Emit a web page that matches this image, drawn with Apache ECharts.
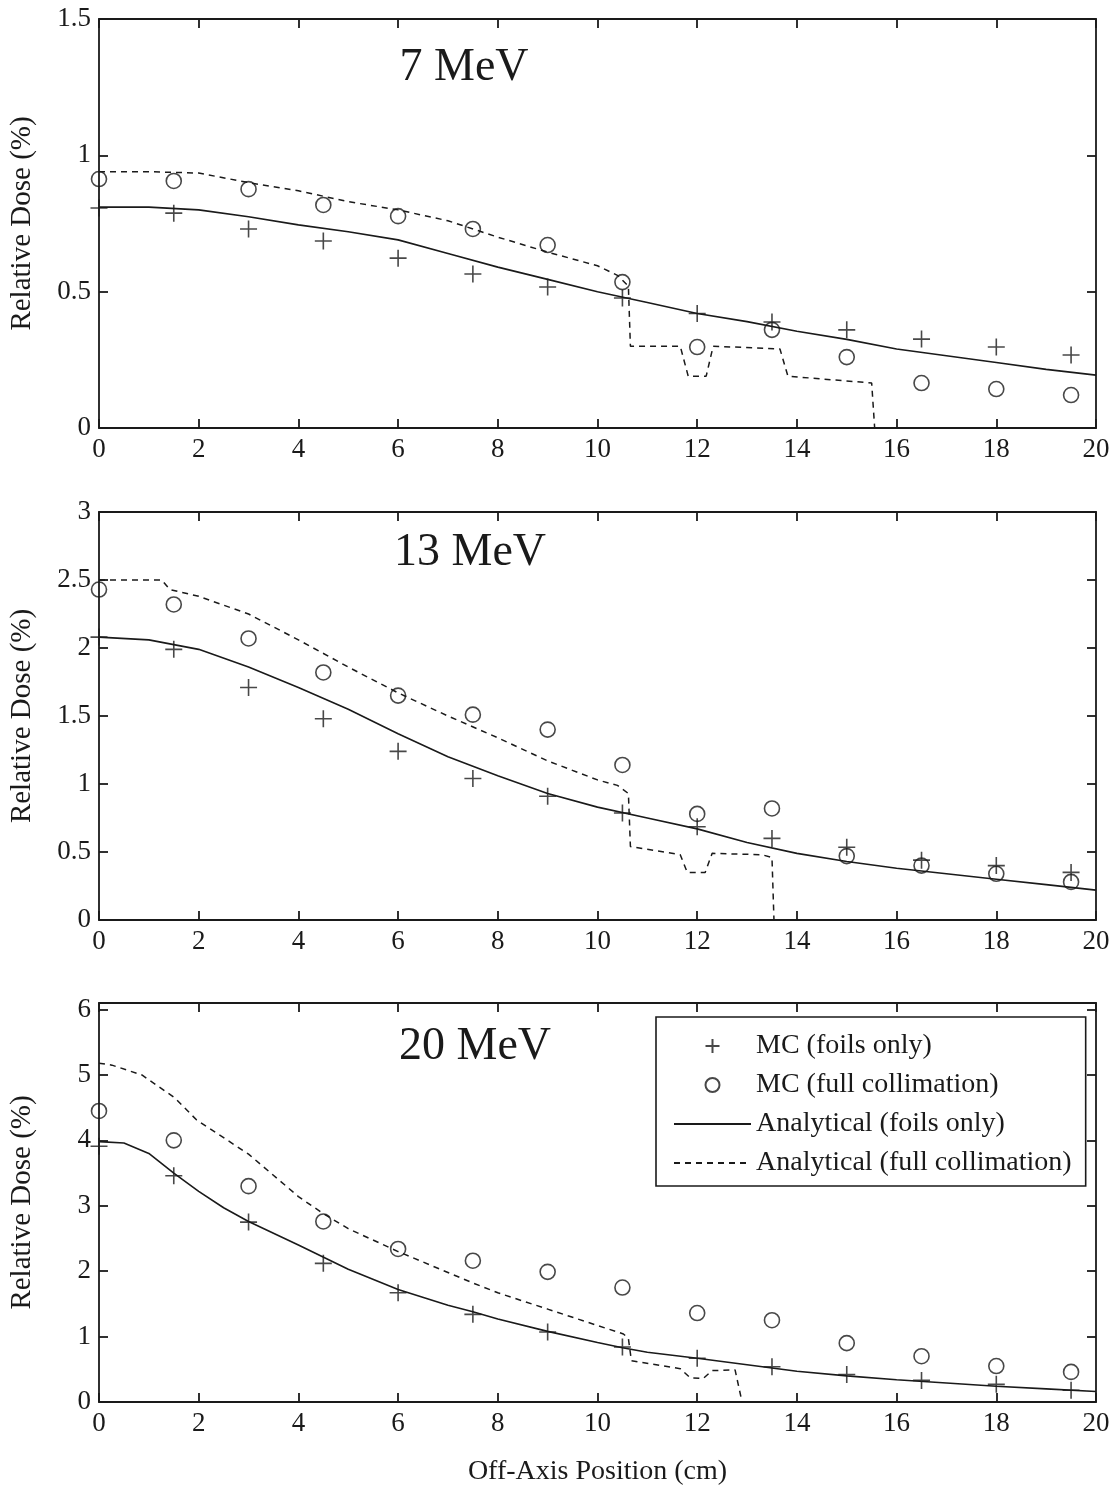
<!DOCTYPE html>
<html>
<head>
<meta charset="utf-8">
<script src="https://cdn.jsdelivr.net/npm/echarts@6/dist/echarts.min.js"></script>
<style>
html,body{margin:0;padding:0;background:#fff;}
#chart{width:1115px;height:1487px;}
</style>
</head>
<body>
<div id="chart"></div>
<script>
// ---------- data ----------
const panelTitles = ['7 MeV', '13 MeV', '20 MeV'];
const legendNames = ['MC (foils only)', 'MC (full collimation)', 'Analytical (foils only)', 'Analytical (full collimation)'];
const xTicks = [0, 2, 4, 6, 8, 10, 12, 14, 16, 18, 20];

const mcX = [0, 1.5, 3, 4.5, 6, 7.5, 9, 10.5, 12, 13.5, 15, 16.5, 18, 19.5];

// 7 MeV
const mcFoils7 = [0.807, 0.788, 0.73, 0.686, 0.623, 0.565, 0.517, 0.477, 0.42, 0.389, 0.36, 0.326, 0.297, 0.268];
const mcColl7  = [0.913, 0.906, 0.876, 0.818, 0.777, 0.73, 0.671, 0.535, 0.297, 0.36, 0.26, 0.165, 0.143, 0.121];
const anaFoils7X = [0, 1, 2, 3, 4, 5, 6, 7, 8, 9, 10, 11, 12, 13, 14, 15, 16, 17, 18, 19, 20];
const anaFoils7  = [0.81, 0.81, 0.80, 0.775, 0.745, 0.72, 0.69, 0.64, 0.59, 0.545, 0.50, 0.46, 0.42, 0.39, 0.355, 0.325, 0.29, 0.265, 0.24, 0.215, 0.194];
const anaColl7X = [0, 1, 2, 3, 4, 5, 6, 7, 8, 9, 10, 10.4, 10.62, 10.66, 11.66, 11.82, 12.18, 12.32, 13.66, 13.82, 15.5, 15.56];
const anaColl7  = [0.94, 0.94, 0.935, 0.90, 0.87, 0.83, 0.80, 0.76, 0.70, 0.645, 0.595, 0.56, 0.52, 0.30, 0.30, 0.19, 0.19, 0.30, 0.29, 0.19, 0.165, 0];

// 13 MeV
const mcFoils13 = [2.08, 1.99, 1.71, 1.48, 1.24, 1.04, 0.91, 0.787, 0.686, 0.60, 0.535, 0.44, 0.40, 0.35];
const mcColl13  = [2.43, 2.32, 2.07, 1.82, 1.65, 1.51, 1.40, 1.14, 0.78, 0.82, 0.47, 0.40, 0.34, 0.28];
const anaFoils13X = [0, 1, 2, 3, 4, 5, 6, 7, 8, 9, 10, 11, 12, 13, 14, 15, 16, 17, 18, 19, 20];
const anaFoils13  = [2.08, 2.06, 1.99, 1.86, 1.71, 1.55, 1.37, 1.20, 1.06, 0.93, 0.83, 0.75, 0.67, 0.57, 0.49, 0.43, 0.38, 0.34, 0.30, 0.26, 0.22];
const anaColl13X = [0, 1.26, 1.42, 2, 3, 4, 5, 6, 7, 8, 9, 10, 10.4, 10.62, 10.66, 11.66, 11.8, 12.16, 12.3, 13.3, 13.5, 13.54];
const anaColl13  = [2.50, 2.50, 2.43, 2.38, 2.25, 2.06, 1.86, 1.67, 1.50, 1.34, 1.17, 1.03, 0.99, 0.93, 0.54, 0.48, 0.35, 0.35, 0.49, 0.48, 0.46, 0];

// 20 MeV
const mcFoils20 = [3.91, 3.46, 2.75, 2.12, 1.67, 1.34, 1.07, 0.84, 0.67, 0.54, 0.42, 0.33, 0.27, 0.18];
const mcColl20  = [4.45, 4.00, 3.30, 2.76, 2.34, 2.16, 1.99, 1.75, 1.36, 1.25, 0.90, 0.70, 0.55, 0.46];
const anaFoils20X = [0, 0.5, 1, 1.5, 2, 2.5, 3, 4, 5, 6, 7, 7.5, 8, 9, 10, 10.5, 11, 12, 13, 14, 15, 16, 17, 18, 19, 20];
const anaFoils20  = [3.98, 3.96, 3.80, 3.50, 3.22, 2.97, 2.76, 2.40, 2.03, 1.72, 1.48, 1.38, 1.27, 1.08, 0.91, 0.83, 0.76, 0.67, 0.57, 0.47, 0.40, 0.34, 0.29, 0.24, 0.20, 0.16];
const anaColl20X = [0, 0.26, 0.86, 1.52, 1.96, 3, 4, 4.5, 5, 6, 7, 7.5, 8, 9, 10, 10.52, 10.62, 10.68, 11.66, 11.86, 12.12, 12.3, 12.76, 12.9];
const anaColl20  = [5.18, 5.15, 5.0, 4.65, 4.31, 3.79, 3.14, 2.88, 2.65, 2.30, 1.98, 1.82, 1.67, 1.42, 1.17, 1.04, 0.97, 0.63, 0.51, 0.37, 0.36, 0.48, 0.49, 0];

const yMax = [1.5, 3, 6.1];
const yInterval = [0.5, 0.5, 1];

// ---------- chart ----------
const FONT = 'Liberation Serif';
const INK = '#1a1a1a';
const pairs = (xs, ys) => xs.map((x, i) => [x, ys[i]]);
const plusPath = 'path://M8,0L8,16M0,8L16,8';

const gridTops = [19, 512, 1003];
const gridHeights = [409, 408, 409];

const panels = [
  {foils: mcFoils7, coll: mcColl7, af: pairs(anaFoils7X, anaFoils7), ac: pairs(anaColl7X, anaColl7)},
  {foils: mcFoils13, coll: mcColl13, af: pairs(anaFoils13X, anaFoils13), ac: pairs(anaColl13X, anaColl13)},
  {foils: mcFoils20, coll: mcColl20, af: pairs(anaFoils20X, anaFoils20), ac: pairs(anaColl20X, anaColl20)}
];

const grid = [], xAxis = [], yAxis = [], series = [], graphic = [];
const axisLineStyle = {color: INK, width: 1.8};

panels.forEach((p, i) => {
  grid.push({left: 96, width: 1000, top: gridTops[i], height: gridHeights[i], containLabel: false});
  xAxis.push({
    type: 'value', gridIndex: i, min: 0, max: 20, interval: 2, position: 'bottom',
    axisLine: {show: true, onZero: false, lineStyle: axisLineStyle},
    axisTick: {show: true, inside: true, length: 9, lineStyle: axisLineStyle},
    axisLabel: {show: true, margin: 8, fontFamily: FONT, fontSize: 27, color: INK},
    splitLine: {show: false},
    name: i === 2 ? 'Off-Axis Position (cm)' : '',
    nameLocation: 'middle', nameGap: 56,
    nameTextStyle: {fontFamily: FONT, fontSize: 28, color: INK}
  });
  xAxis.push({
    type: 'value', gridIndex: i, min: 0, max: 20, interval: 2, position: 'top',
    axisLine: {show: true, onZero: false, lineStyle: axisLineStyle},
    axisTick: {show: true, inside: true, length: 9, lineStyle: axisLineStyle},
    axisLabel: {show: false}, splitLine: {show: false}
  });
  yAxis.push({
    type: 'value', gridIndex: i, min: 0, max: yMax[i], interval: yInterval[i], position: 'left',
    axisLine: {show: true, onZero: false, lineStyle: axisLineStyle},
    axisTick: {show: true, inside: true, length: 9, lineStyle: axisLineStyle},
    axisLabel: {show: true, margin: 8, fontFamily: FONT, fontSize: 27, color: INK, showMaxLabel: i !== 2},
    splitLine: {show: false},
    name: 'Relative Dose (%)', nameLocation: 'middle', nameGap: 62,
    nameTextStyle: {fontFamily: FONT, fontSize: 29, color: INK}
  });
  yAxis.push({
    type: 'value', gridIndex: i, min: 0, max: yMax[i], interval: yInterval[i], position: 'right',
    axisLine: {show: true, onZero: false, lineStyle: axisLineStyle},
    axisTick: {show: true, inside: true, length: 9, lineStyle: axisLineStyle},
    axisLabel: {show: false}, splitLine: {show: false}
  });
  const xi = 2 * i, yi = 2 * i;
  series.push({
    name: legendNames[0], type: 'scatter', xAxisIndex: xi, yAxisIndex: yi,
    data: pairs(mcX, p.foils), symbol: plusPath, symbolSize: 17,
    itemStyle: {color: 'rgba(0,0,0,0)', borderColor: INK, borderWidth: 1.6}, z: 3
  });
  series.push({
    name: legendNames[1], type: 'scatter', xAxisIndex: xi, yAxisIndex: yi,
    data: pairs(mcX, p.coll), symbol: 'circle', symbolSize: 15,
    itemStyle: {color: 'rgba(0,0,0,0)', borderColor: INK, borderWidth: 1.6}, z: 3
  });
  series.push({
    name: legendNames[2], type: 'line', xAxisIndex: xi, yAxisIndex: yi,
    data: p.af, symbol: 'none', showSymbol: false, smooth: false,
    lineStyle: {color: INK, width: 1.6, type: 'solid'}, itemStyle: {color: INK}
  });
  series.push({
    name: legendNames[3], type: 'line', xAxisIndex: xi, yAxisIndex: yi,
    data: p.ac, symbol: 'none', showSymbol: false, smooth: false,
    lineStyle: {color: INK, width: 1.5, type: [6, 5]}, itemStyle: {color: INK}
  });
});

const titleCenters = [[464, 68], [470, 553], [475, 1047]];
panelTitles.forEach((t, i) => {
  graphic.push({
    type: 'text', x: titleCenters[i][0], y: titleCenters[i][1], z: 10,
    style: {text: t, font: '46px "Liberation Serif"', fill: INK, align: 'center', verticalAlign: 'middle'}
  });
});

const hiddenSymbol = {color: 'rgba(0,0,0,0)', borderWidth: 0, borderColor: 'rgba(0,0,0,0)'};

const chart = echarts.init(document.getElementById('chart'), null, {renderer: 'canvas'});
chart.setOption({
  animation: false,
  backgroundColor: '#fff',
  textStyle: {fontFamily: FONT, color: INK},
  grid, xAxis, yAxis, series, graphic,
  legend: {
    data: [
      {name: legendNames[0]},
      {name: legendNames[1]},
      {name: legendNames[2], itemStyle: hiddenSymbol},
      {name: legendNames[3], itemStyle: hiddenSymbol}
    ],
    orient: 'vertical', left: 656, top: 1017,
    padding: [14, 14, 8, 17],
    itemGap: 9, itemWidth: 77, itemHeight: 14,
    backgroundColor: '#fff', borderColor: INK, borderWidth: 1.6, borderRadius: 0,
    textStyle: {fontFamily: FONT, fontSize: 28, color: INK, lineHeight: 30},
    selectedMode: false, z: 20
  }
});
</script>
</body>
</html>
